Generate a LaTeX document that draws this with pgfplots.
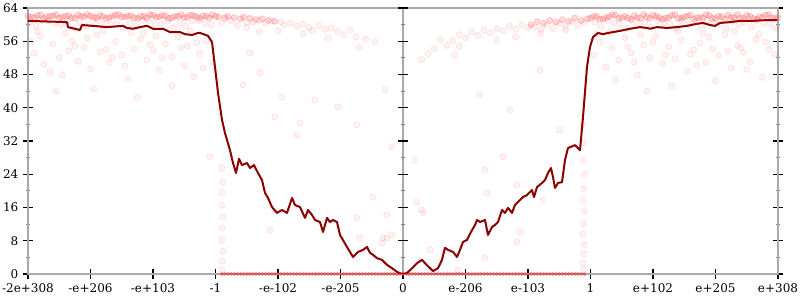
\documentclass[border=0pt]{standalone}
\usepackage{fontspec}
\setmainfont{DejaVu Serif}
\usepackage{pgfplots}
\pgfplotsset{compat=1.18}
\usetikzlibrary{calc}
\definecolor{framegray}{RGB}{170,170,170}
\definecolor{linered}{RGB}{139,0,0}
\begin{document}
\begin{tikzpicture}
\begin{axis}[
 name=ax, scale only axis, width=562.5pt, height=199.5pt,
 xmin=-6, xmax=6, ymin=0, ymax=64,
 xtick={-6,-5,-4,-3,-2,-1,0,1,2,3,4,5,6},
 xticklabels={-2e+308,-e+206,-e+103,-1,-e-102,-e-205,0,e-206,e-103,1,e+102,e+205,e+308},
 ytick={0,8,...,64},
 minor ytick={4,12,...,60},
 xtick pos=left, ytick pos=both, yticklabel pos=left, xticklabel pos=left,
 tick align=center,
 major tick length=7.5pt, minor tick length=3pt,
 major tick style={black, line width=0.9pt},
 minor tick style={gray, line width=0.6pt},
 axis line style={framegray, line width=1.5pt},
 tick label style={font=\fontsize{9}{10}\selectfont},
 /pgf/number format/assume math mode=true,
 band/.style={red, only marks, mark=*, mark size=2.3pt, mark options={draw=red, fill=red, draw opacity=0.22, fill opacity=0.14}},
 scat/.style={red, only marks, mark=*, mark size=2.3pt, mark options={draw=red, fill=red, draw opacity=0.12, fill opacity=0.05}},
]
% center vertical line
\draw[framegray, line width=1.5pt] (axis cs:0,0) -- (axis cs:0,64);
\pgfplotsinvokeforeach{0,8,16,24,32,40,48,56,64}{\draw[black, line width=0.9pt] ([xshift=-3.75pt]axis cs:0,#1) -- ([xshift=3.75pt]axis cs:0,#1);}
\pgfplotsinvokeforeach{4,12,20,28,36,44,52,60}{\draw[gray, line width=0.6pt] ([xshift=-1.5pt]axis cs:0,#1) -- ([xshift=1.5pt]axis cs:0,#1);}

% top band left (core)
\addplot[band] coordinates {
(-6.0,62.0)(-5.9,61.7)(-5.8,62.3)(-5.7,61.9)(-5.6,62.1)(-5.5,61.6)(-5.4,62.0)(-5.3,61.7)(-5.2,62.3)(-5.1,61.9)(-5.0,62.1)(-4.9,61.6)(-4.8,62.0)(-4.7,61.7)(-4.6,62.3)(-4.5,61.9)(-4.4,62.1)(-4.3,61.6)(-4.2,62.0)(-4.1,61.7)(-4.0,62.3)(-3.9,61.9)(-3.8,62.1)(-3.7,61.6)(-3.6,62.0)(-3.5,61.7)(-3.4,62.3)(-3.3,61.9)(-3.2,62.1)(-3.1,61.6)(-3.0,62.0)
(-5.95,61.8)(-5.85,62.2)(-5.75,61.5)(-5.65,62.0)(-5.55,62.4)(-5.45,61.8)(-5.35,62.2)(-5.25,61.5)(-5.15,62.0)(-5.05,62.4)(-4.95,61.8)(-4.85,62.2)(-4.75,61.5)(-4.65,62.0)(-4.55,62.4)(-4.45,61.8)(-4.35,62.2)(-4.25,61.5)(-4.15,62.0)(-4.05,62.4)(-3.95,61.8)(-3.85,62.2)(-3.75,61.5)(-3.65,62.0)(-3.55,62.4)(-3.45,61.8)(-3.35,62.2)(-3.25,61.5)(-3.15,62.0)(-3.05,62.4)
(-2.95,61.8)(-2.85,61.6)(-2.8,62.0)(-2.7,61.7)(-2.6,61.4)(-2.55,61.8)(-2.45,61.5)(-2.35,61.2)(-2.25,61.4)(-2.15,61.0)(-2.05,60.8)
};
% top band right (core)
\addplot[band] coordinates {
(3.0,61.6)(3.1,62.0)(3.2,61.4)(3.3,61.9)(3.4,62.3)(3.5,61.7)(3.6,61.6)(3.7,62.2)(3.8,61.5)(3.9,61.9)(4.0,62.3)(4.1,61.7)(4.2,61.6)(4.3,62.2)(4.4,61.5)(4.5,61.9)(4.6,62.3)(4.7,61.7)(4.8,61.6)(4.9,62.2)(5.0,61.5)(5.1,61.9)(5.2,62.3)(5.3,61.7)(5.4,61.6)(5.5,62.2)(5.6,61.5)(5.7,61.9)(5.8,62.3)(5.9,61.7)(6.0,61.6)
(3.05,62.0)(3.15,61.3)(3.25,61.7)(3.35,62.4)(3.45,61.5)(3.55,62.0)(3.65,61.3)(3.75,61.7)(3.85,62.4)(3.95,61.5)(4.05,62.0)(4.15,61.3)(4.25,61.7)(4.35,62.4)(4.45,61.5)(4.55,62.0)(4.65,61.3)(4.75,61.7)(4.85,62.4)(4.95,61.5)(5.05,62.0)(5.15,61.3)(5.25,61.7)(5.35,62.4)(5.45,61.5)(5.55,62.0)(5.65,61.3)(5.75,61.7)(5.85,62.4)(5.95,61.5)
(2.95,61.4)(2.85,61.0)(2.75,61.6)(2.65,60.8)(2.55,61.2)(2.45,60.6)(2.35,61.0)(2.25,60.3)(2.15,60.7)(2.05,60.0)
};
% lighter band zone and tapers
\addplot[scat] coordinates {
(-5.97,60.5)(-5.77,61.0)(-5.57,60.2)(-5.37,60.8)(-5.17,60.5)(-4.97,61.0)(-4.77,60.2)(-4.57,60.8)(-4.37,60.5)(-4.17,61.0)(-3.97,60.2)(-3.77,60.8)(-3.57,60.5)(-3.37,61.0)(-3.17,60.2)
(-5.87,59.6)(-5.67,60.9)(-5.47,60.0)(-5.27,59.2)(-5.07,59.6)(-4.87,60.9)(-4.67,60.0)(-4.47,59.2)(-4.27,59.6)(-4.07,60.9)(-3.87,60.0)(-3.67,59.2)(-3.47,59.6)(-3.27,60.9)(-3.07,60.0)
(-2.9,60.3)(-2.75,60.9)(-2.65,59.8)(-2.5,60.4)(-2.4,60.6)(-2.3,61.0)(-2.2,60.4)(-2.1,60.9)(-1.95,60.7)(-1.9,59.9)(-1.8,60.3)(-1.7,59.6)(-1.6,60.1)(-1.5,59.3)(-1.45,58.6)(-1.35,59.8)(-1.25,58.9)(-1.15,59.2)(-1.05,58.4)(-0.95,57.6)(-0.85,58.8)(-0.75,57.1)(-0.6,56.5)(-0.45,55.8)(-1.6,57.8)(-2.0,58.5)(-2.5,59.3)(-1.2,56.7)(-0.7,54.5)(-2.3,58.2)
(3.07,60.6)(3.27,61.0)(3.47,60.2)(3.67,60.8)(3.87,60.6)(4.07,61.0)(4.27,60.2)(4.47,60.8)(4.67,60.6)(4.87,61.0)(5.07,60.2)(5.27,60.8)(5.47,60.6)(5.67,61.0)(5.87,60.2)
(3.17,59.5)(3.37,60.4)(3.57,59.1)(3.77,60.0)(3.97,59.5)(4.17,60.4)(4.37,59.1)(4.57,60.0)(4.77,59.5)(4.97,60.4)(5.17,59.1)(5.37,60.0)(5.57,59.5)(5.77,60.4)(5.97,59.1)
(2.9,60.5)(2.8,59.9)(2.7,60.7)(2.6,59.5)(2.5,60.2)(2.4,59.1)(2.3,59.8)(2.2,58.8)(2.1,59.4)(2.0,59.3)(1.9,60.0)(1.8,58.9)(1.7,59.6)(1.6,58.5)(1.5,59.1)(1.4,58.0)(1.3,58.7)(1.2,57.4)(1.1,58.2)(1.0,56.8)(0.9,57.6)(0.8,56.1)(0.7,55.0)(0.6,56.4)(0.5,54.2)(0.4,53.0)(0.3,51.6)(1.5,56.3)(2.2,57.9)(0.9,54.8)(1.8,57.0)(2.6,58.8)
};
% clouds
\addplot[scat] coordinates {
(-5.9,53.1)(-5.8,57.2)(-5.75,50.4)(-5.6,55.3)(-5.5,52.0)(-5.45,47.8)(-5.3,56.1)(-5.2,51.2)(-5.1,54.6)(-5.0,49.3)(-4.9,57.5)(-4.85,53.4)(-4.7,50.8)(-4.6,55.9)(-4.5,52.7)(-4.4,46.9)(-4.3,54.1)(-4.2,56.6)(-4.1,51.5)(-4.0,53.8)(-3.9,49.0)(-3.8,55.4)(-3.7,52.3)(-3.6,57.0)(-3.5,50.1)(-3.45,54.9)(-3.35,47.5)(-3.25,53.0)(-3.15,56.2)(-3.05,51.0)(-5.95,56.0)(-5.65,48.6)(-5.35,53.7)(-5.05,56.8)(-4.75,54.0)(-4.45,50.0)(-4.15,57.9)(-3.85,51.9)(-3.55,54.4)(-3.2,49.5)(-4.95,44.6)(-3.7,45.3)(-5.55,44.0)(-4.25,42.5)
(-5.85,58.3)(-5.4,57.9)(-4.8,58.6)(-4.35,58.1)(-3.95,57.3)(-3.4,58.4)(-5.25,54.9)(-4.65,52.1)(-4.05,55.2)(-3.3,55.7)
(3.05,52.6)(3.15,55.8)(3.25,49.8)(3.35,54.3)(3.45,51.4)(3.55,56.9)(3.65,53.2)(3.75,47.9)(3.85,55.1)(3.95,52.0)(4.05,57.3)(4.15,50.6)(4.25,54.7)(4.35,51.8)(4.45,56.3)(4.55,48.7)(4.65,53.9)(4.75,55.6)(4.85,50.9)(4.95,54.2)(5.05,52.5)(5.15,57.6)(5.25,49.6)(5.35,55.0)(5.45,53.3)(5.55,51.1)(5.65,56.5)(5.75,47.3)(5.85,54.0)(5.95,52.8)(3.1,57.8)(3.4,46.6)(3.7,51.0)(4.0,55.9)(4.3,45.2)(4.6,52.9)(4.9,57.0)(5.2,53.6)(5.5,49.2)(5.8,55.8)(3.9,44.0)(5.0,46.5)
(3.3,58.2)(3.8,57.6)(4.4,58.4)(4.8,57.9)(5.3,58.3)(5.7,57.7)(3.6,54.6)(4.2,52.8)(4.7,50.2)(5.4,54.4)
};
% sparse middle points and columns
\addplot[scat] coordinates {
(-2.45,53.2)(-2.56,45.5)(-1.94,42.6)(-1.41,41.9)(-2.05,37.8)(-1.65,36.3)(-1.7,33.4)(-0.74,35.9)(-1.04,40.2)(-0.29,44.3)(-0.18,30.6)(-2.29,48.4)(-0.26,8.7)(-0.34,7.5)(-0.74,13.5)(-0.69,8.7)(-2.13,10.6)(-0.48,18.5)(-3.09,28.2)(-0.26,14.2)(-0.32,8.7)(-0.18,9.4)
(0.19,27.4)(0.22,17.3)(0.3,15.4)(0.32,14.7)(0.43,5.8)(1.31,25.0)(1.34,19.5)(1.87,10.1)(1.82,7.7)(1.82,21.4)(2.24,17.8)(1.31,3.8)(1.6,28.2)(0.88,1.0)(1.23,43.1)(2.19,49.1)(0.83,52.7)(1.71,39.5)(2.51,34.6)
(2.88,27.4)(2.9,24.0)(2.89,20.5)(2.88,17.8)(2.9,15.2)(2.89,12.0)(2.88,9.6)(2.9,7.0)(2.89,4.8)(2.88,2.6)(2.9,1.2)(2.89,31.5)(2.88,36.0)
(-2.9,25.5)(-2.88,22.1)(-2.89,19.6)(-2.9,16.5)(-2.88,13.8)(-2.89,11.0)(-2.9,8.2)(-2.88,5.5)(-2.89,3.1)(-2.9,1.0)
};
% bottom stripe
\addplot[red, only marks, mark=*, mark size=1.4pt, mark options={draw=red, fill=red, draw opacity=0.25, fill opacity=0.35}] coordinates {
(-2.9,0)(-2.85,0)(-2.8,0)(-2.75,0)(-2.7,0)(-2.65,0)(-2.6,0)(-2.55,0)(-2.5,0)(-2.45,0)(-2.4,0)(-2.35,0)(-2.3,0)(-2.25,0)(-2.2,0)(-2.15,0)(-2.1,0)(-2.05,0)(-2.0,0)(-1.95,0)(-1.9,0)(-1.85,0)(-1.8,0)(-1.75,0)(-1.7,0)(-1.65,0)(-1.6,0)(-1.55,0)(-1.5,0)(-1.45,0)(-1.4,0)(-1.35,0)(-1.3,0)(-1.25,0)(-1.2,0)(-1.15,0)(-1.1,0)(-1.05,0)(-1.0,0)(-0.95,0)(-0.9,0)(-0.85,0)(-0.8,0)(-0.75,0)(-0.7,0)(-0.65,0)(-0.6,0)(-0.55,0)(-0.5,0)(-0.45,0)(-0.4,0)(-0.35,0)(-0.3,0)(-0.25,0)(-0.2,0)(-0.15,0)(-0.1,0)(-0.05,0)(0.0,0)
(0.05,0)(0.1,0)(0.15,0)(0.2,0)(0.25,0)(0.3,0)(0.35,0)(0.4,0)(0.45,0)(0.5,0)(0.55,0)(0.6,0)(0.65,0)(0.7,0)(0.75,0)(0.8,0)(0.85,0)(0.9,0)(0.95,0)(1.0,0)(1.05,0)(1.1,0)(1.15,0)(1.2,0)(1.25,0)(1.3,0)(1.35,0)(1.4,0)(1.45,0)(1.5,0)(1.55,0)(1.6,0)(1.65,0)(1.7,0)(1.75,0)(1.8,0)(1.85,0)(1.9,0)(1.95,0)(2.0,0)(2.05,0)(2.1,0)(2.15,0)(2.2,0)(2.25,0)(2.3,0)(2.35,0)(2.4,0)(2.45,0)(2.5,0)(2.55,0)(2.6,0)(2.65,0)(2.7,0)(2.75,0)(2.8,0)(2.85,0)(2.9,0)
};
% main line
\addplot[linered, line width=1.5pt, line join=round] coordinates {
(-6.0,60.9)(-5.376,60.6)(-5.36,59.4)(-5.168,58.7)(-5.136,59.9)(-4.96,59.7)(-4.736,59.4)(-4.48,59.7)(-4.416,59.2)(-4.32,59.0)(-4.208,59.4)(-4.096,59.7)(-4.0,59.0)(-3.84,59.0)(-3.728,58.2)(-3.568,58.2)(-3.488,57.7)(-3.376,57.5)(-3.28,58.0)(-3.248,58.0)(-3.12,57.3)(-3.056,55.8)(-3.008,49.8)(-2.96,43.6)(-2.896,37.1)(-2.848,33.9)(-2.768,29.8)(-2.72,26.7)(-2.672,24.3)(-2.624,27.7)(-2.576,26.2)(-2.496,26.7)(-2.448,25.5)(-2.384,26.2)(-2.32,24.3)(-2.256,22.6)(-2.208,19.5)(-2.16,18.3)(-2.096,16.1)(-2.016,14.7)(-1.936,15.4)(-1.856,14.7)(-1.776,18.3)(-1.728,16.6)(-1.648,16.1)(-1.568,13.5)(-1.52,15.4)(-1.456,14.2)(-1.408,13.0)(-1.328,12.5)(-1.28,10.1)(-1.216,13.5)(-1.168,12.5)(-1.12,13.0)(-1.056,12.5)(-1.008,9.4)(-0.896,6.5)(-0.8,4.1)(-0.72,5.3)(-0.64,5.8)(-0.576,6.5)(-0.528,5.1)(-0.48,4.6)(-0.416,3.8)(-0.336,3.4)(-0.256,2.2)(-0.176,1.4)(-0.096,0.5)(-0.016,0.0)
(0.064,0.2)(0.144,1.4)(0.224,2.6)(0.304,3.4)(0.352,2.6)(0.432,1.4)(0.48,0.7)(0.56,1.4)(0.624,3.4)(0.672,6.3)(0.72,5.8)(0.8,5.3)(0.864,4.1)(0.912,5.8)(0.96,7.7)(1.024,8.2)(1.088,10.1)(1.152,11.8)(1.184,13.0)(1.232,12.5)(1.312,13.0)(1.36,9.4)(1.424,11.3)(1.472,11.8)(1.52,12.5)(1.584,15.4)(1.632,14.7)(1.68,15.9)(1.744,14.7)(1.792,16.6)(1.872,17.8)(1.92,18.5)(1.984,19.0)(2.064,20.2)(2.096,18.5)(2.144,20.9)(2.224,21.9)(2.272,22.6)(2.32,24.3)(2.368,25.5)(2.4,23.3)(2.432,20.7)(2.48,21.9)(2.544,22.1)(2.592,27.4)(2.64,30.3)(2.752,31.0)(2.832,29.8)(2.88,37.8)(2.944,49.8)(2.992,54.6)(3.04,57.0)(3.12,58.0)(3.2,57.7)(3.28,58.0)(3.36,58.2)(3.472,58.5)(3.632,59.0)(3.792,59.4)(3.904,59.2)(3.952,59.0)(4.064,59.4)(4.224,59.2)(4.384,59.4)(4.544,59.7)(4.704,60.2)(4.8,60.4)(4.912,59.9)(4.992,59.7)(5.072,60.4)(5.232,60.6)(5.392,60.9)(5.6,60.9)(5.824,61.1)(5.984,61.1)
};
\end{axis}
\pgfresetboundingbox
\path[use as bounding box] ($(ax.south west)+(-21pt,-19.5pt)$) rectangle ($(ax.north east)+(16.5pt,6pt)$);
\end{tikzpicture}
\end{document}
